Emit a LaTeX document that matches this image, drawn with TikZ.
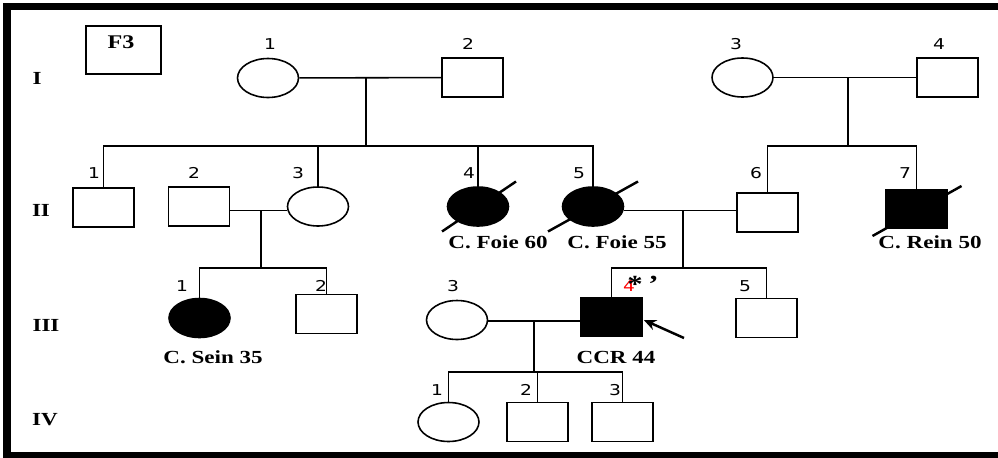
\documentclass[tikz,border=0pt]{standalone}
\usepackage{fontspec}
\setmainfont{Liberation Serif}
\newfontfamily\numfont{DejaVu Sans}
\usetikzlibrary{shapes.geometric,arrows.meta}

\tikzset{
	male/.style={shape=rectangle,draw=black,line width=0.9pt,minimum width=1.22cm,minimum height=0.78cm,inner sep=0pt},
	female/.style={shape=ellipse,draw=black,line width=0.9pt,minimum width=1.22cm,minimum height=0.78cm,inner sep=0pt},
	affected/.style={fill=black},
	dead/.style={line width=1.4pt},
	num/.style={font=\numfont\fontsize{8.5}{10}\selectfont,xscale=1.25,transform shape,inner sep=0pt},
	lbl/.style={font=\bfseries\fontsize{10.5}{12}\selectfont,xscale=1.25,transform shape,inner sep=0pt},
}

\begin{document}
\begin{tikzpicture}[x=0.02cm,y=-0.02cm,line width=0.9pt]
	
	\useasboundingbox (0,0) rectangle (998,457);
	\clip (0,0) rectangle (998,457);
	\draw[line width=4.5pt,line join=miter] (1010,6.5) -- (7,6.5) -- (7,456) -- (1010,456);
	
	\node[male,minimum width=1.5cm,minimum height=0.96cm] (fam) at (123.5,50) {};
	\node[lbl,font=\bfseries\fontsize{11}{13}\selectfont] (famname) at (121,42) {F3};
	
	\node[lbl] (gI)   at (37,78)  {I};
	\node[lbl] (gII)  at (41,210) {II};
	\node[lbl] (gIII) at (46,325) {III};
	\node[lbl] (gIV)  at (45,420) {IV};
	
	% generation I
	\node[female] (i1) at (268,78)     {};
	\node[male]   (i2) at (472.5,77.5) {};
	\node[female] (i3) at (742.5,77.5) {};
	\node[male]   (i4) at (947.5,77.5) {};
	\node[num] at (270,44) {1};
	\node[num] at (468,44) {2};
	\node[num] at (736,44) {3};
	\node[num] at (939,44) {4};
	
	% generation II
	\node[male]            (ii1) at (103.5,207.5) {};
	\node[male]            (ii2) at (199,206.5)   {};
	\node[female]          (ii3) at (318,206.5)   {};
	\node[female,affected] (ii4) at (478,206.5)   {};
	\node[female,affected] (ii5) at (593,206.5)   {};
	\node[male]            (ii6) at (767.5,212.5) {};
	\node[male,affected]   (ii7) at (916.5,209)   {};
	\node[num] at (94,173)  {1};
	\node[num] at (194,173) {2};
	\node[num] at (298,173) {3};
	\node[num] at (469,173) {4};
	\node[num] at (579,173) {5};
	\node[num] at (756,173) {6};
	\node[num] at (905,173) {7};
	\node[lbl] (d4) at (498,242) {C. Foie 60};
	\node[lbl] (d5) at (617,242) {C. Foie 55};
	\node[lbl] (d7) at (930,242) {C. Rein 50};
	
	% generation III
	\node[female,affected] (iii1) at (199.5,318) {};
	\node[male]            (iii2) at (326.5,314) {};
	\node[female]          (iii3) at (457,320)   {};
	\node[male,affected]   (iii4) at (611.5,317) {};
	\node[male]            (iii5) at (766.5,318) {};
	\node[num] at (182,286) {1};
	\node[num] at (321,286) {2};
	\node[num] at (453,286) {3};
	\node[num,text=red] at (629,286) {4};
	\node[num] at (745,286) {5};
	\node[lbl,font=\bfseries\fontsize{14}{16}\selectfont,anchor=base] (star) at (643,292) {*\hspace{2.5pt}’};
	\node[lbl] (d1) at (213,357) {C. Sein 35};
	\node[lbl] (dp) at (616,357) {CCR 44};
	
	% generation IV
	\node[female] (iv1) at (448.5,422) {};
	\node[male]   (iv2) at (537.5,422) {};
	\node[male]   (iv3) at (622.5,422) {};
	\node[num] at (437,390) {1};
	\node[num] at (526,390) {2};
	\node[num] at (615,390) {3};
	
	% couples and sibships
	\coordinate (m12) at (366,78);
	\coordinate (s12) at (366,146);
	\coordinate (m34) at (848,77.5);
	\coordinate (s34) at (848,146);
	\coordinate (m23) at (261,210.5);
	\coordinate (s23) at (261,268);
	\coordinate (m56) at (683,210.5);
	\coordinate (s56) at (683,268);
	\coordinate (m34b) at (534,321);
	\coordinate (siv) at (534,372);
	
	\path[-] (i1) edge (i2);
	\path[-] (i3) edge (i4);
	\path[-] (m12) edge (s12);
	\path[-] (m34) edge (s34);
	\draw (ii1.north) |- (s12) -| (ii5.north);
	\draw (ii3.north) -- (ii3.north |- s12);
	\draw (ii4.north) -- (ii4.north |- s12);
	\draw (ii6.north) |- (s34) -| (ii7.north);
	
	\draw (ii2.east |- m23) -- (ii3.west |- m23);
	\path[-] (m23) edge (s23);
	\draw (iii1.north) |- (s23) -| (iii2.north);
	
	\draw (ii5.east |- m56) -- (ii6.west |- m56);
	\path[-] (m56) edge (s56);
	\draw (iii4.north) |- (s56) -| (iii5.north);
	
	\draw (iii3.east |- m34b) -- (iii4.west |- m34b);
	\path[-] (m34b) edge (siv);
	\draw (iv1.north) |- (siv) -| (iv3.north);
	\draw (iv2.north) -- (iv2.north |- siv);
	
	% deceased
	\draw[dead] ([shift={(-36,25)}]ii4.center) -- ([shift={(38,-25)}]ii4.center);
	\draw[dead] ([shift={(-45,25)}]ii5.center) -- ([shift={(45,-25)}]ii5.center);
	\draw[dead] ([shift={(-44,27)}]ii7.center) -- ([shift={(45,-23)}]ii7.center);
	
	% proband
	\coordinate (prob) at (684,338);
	\draw[dead,-{Stealth[length=7pt,width=6pt]}] (prob) -- ([shift={(1,3)}]iii4.east);
	
\end{tikzpicture}
\end{document}
